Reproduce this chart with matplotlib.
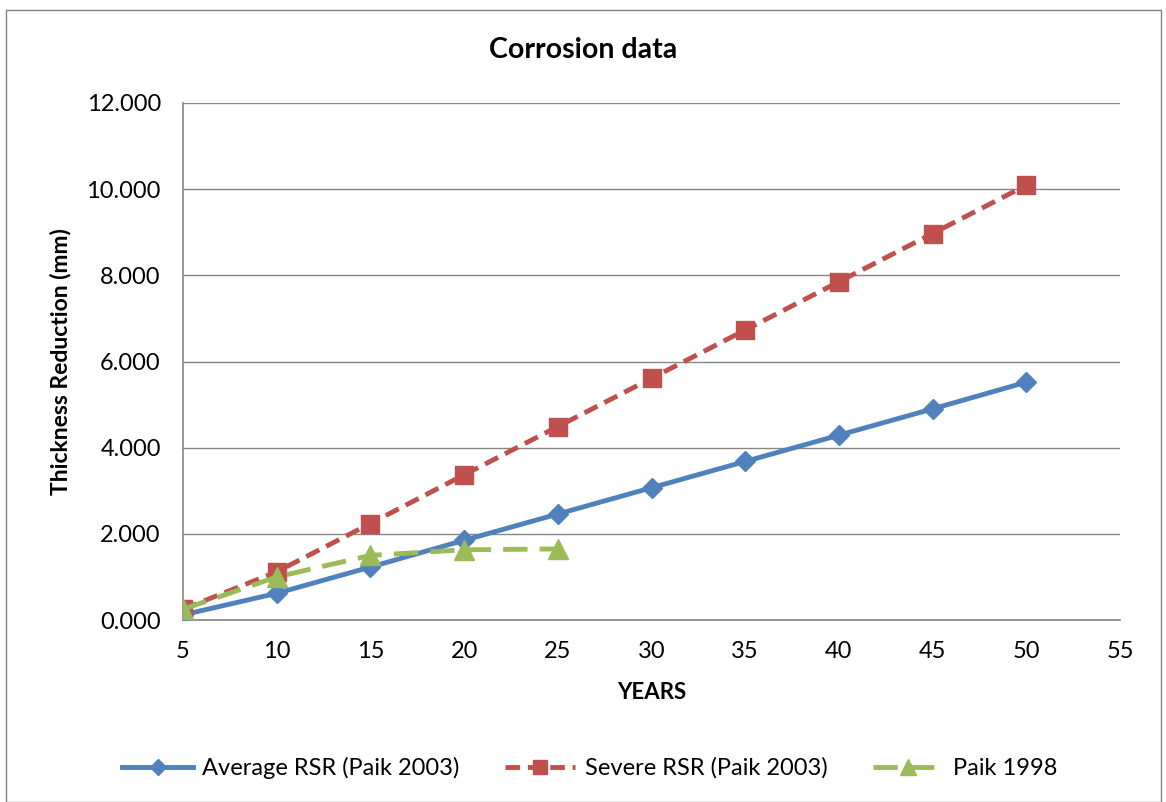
import matplotlib.pyplot as plt
import matplotlib.patches as patches

years = [5, 10, 15, 20, 25, 30, 35, 40, 45, 50]
average_rsr = [0.12, 0.62, 1.23, 1.85, 2.46, 3.07, 3.68, 4.29, 4.90, 5.52]
severe_rsr = [0.25, 1.12, 2.24, 3.37, 4.49, 5.61, 6.73, 7.85, 8.97, 10.09]
paik_years = [5, 10, 15, 20, 25]
paik_1998 = [0.25, 1.00, 1.50, 1.63, 1.65]

plt.rcParams['font.family'] = ['Lato', 'DejaVu Sans']


def plot_graph():
    fig = plt.figure(figsize=(11.66, 8.02), dpi=100)
    ax = fig.add_axes([0.157, 0.2269, 0.8035, 0.6447])

    ax.plot(years, average_rsr, color="#4F81BD", lw=3.5, marker="D",
            markersize=10, label="Average RSR (Paik 2003)", zorder=3)
    ax.plot(years, severe_rsr, color="#C0504D", lw=3.5, ls=(0, (3, 1.6)),
            marker="s", markersize=13, label="Severe RSR (Paik 2003)", zorder=3)
    ax.plot(paik_years, paik_1998, color="#9BBB59", lw=3.5, ls=(0, (5, 2.5)),
            marker="^", markersize=14, label="Paik 1998", zorder=3)

    ax.set_xlim(5, 55)
    ax.set_ylim(0, 12)
    ax.set_xticks(range(5, 60, 5))
    ax.set_yticks(range(0, 14, 2))
    ax.set_yticklabels(["%.3f" % v for v in range(0, 14, 2)])
    ax.grid(axis="y", color="#868686", lw=1)
    ax.set_axisbelow(True)
    for s in ["top", "right"]:
        ax.spines[s].set_visible(False)
    for s in ["left", "bottom"]:
        ax.spines[s].set_color("#868686")
        ax.spines[s].set_linewidth(1.2)
    ax.tick_params(labelsize=17, length=0)
    ax.tick_params(axis="y", pad=16)
    ax.tick_params(axis="x", pad=15)

    ax.set_xlabel("YEARS", fontsize=16, fontweight="bold")
    ax.xaxis.set_label_coords(0.5, -0.141)
    ax.xaxis.label.set_va("center")
    ax.set_ylabel("Thickness Reduction (mm)", fontsize=16.5, fontweight="bold")
    ax.yaxis.set_label_coords(-0.131, 0.5)
    ax.yaxis.label.set_va("center")
    fig.text(0.5, 1 - 50 / 802, "Corrosion data", fontsize=20.5,
             fontweight="bold", ha="center", va="center")

    ax.legend(loc="center", bbox_to_anchor=(0.434, -0.286), ncol=3,
              frameon=False, fontsize=17, handlelength=3.0,
              columnspacing=1.9, handletextpad=0.4, markerscale=0.8)

    fig.patches.append(patches.Rectangle((0.005, 0.0), 0.991, 0.987,
                                         transform=fig.transFigure,
                                         fill=False, edgecolor="#868686", lw=1))
    fig.savefig("out.png", dpi=100)


if __name__ == '__main__':
    plot_graph()
